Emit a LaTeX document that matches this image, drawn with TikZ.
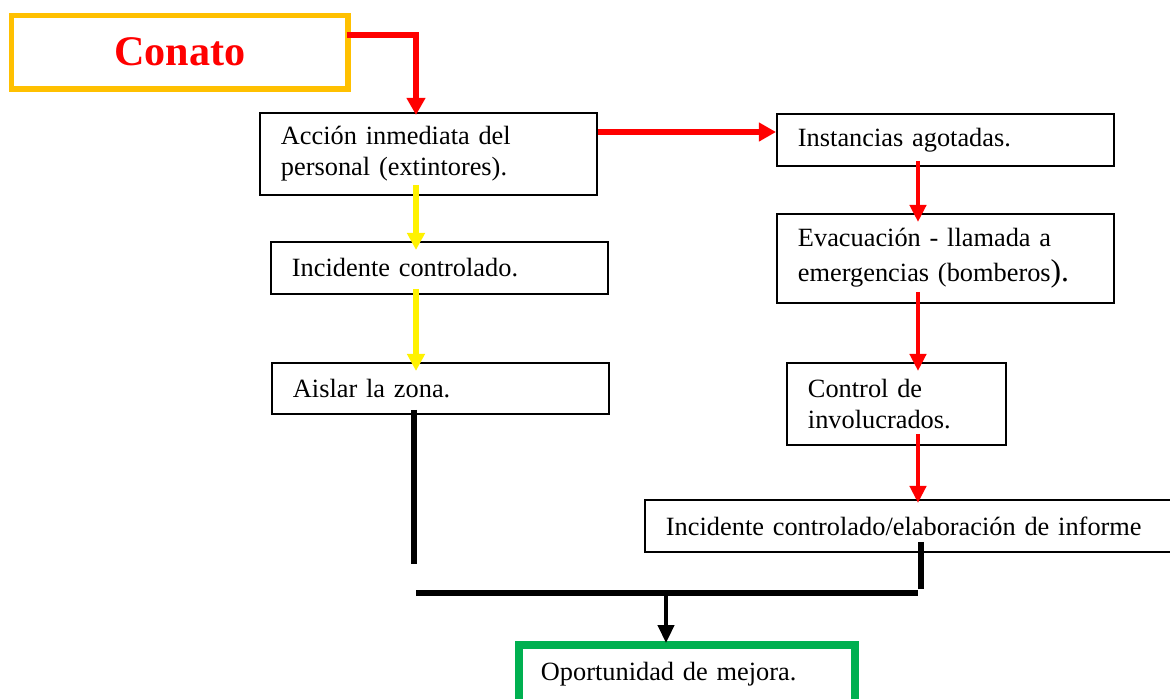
\documentclass[tikz,border=0pt]{standalone}
\usepackage{fontspec}
\setmainfont{Liberation Serif}
\usepackage{xcolor}
\usetikzlibrary{arrows.meta}
\definecolor{naranja}{HTML}{FFC000}
\definecolor{verde}{HTML}{00B050}

\begin{document}
\begin{tikzpicture}[x=0.02cm, y=-0.02cm,
	caja/.style={draw, line width=1.1pt, anchor=north west, inner xsep=0.42cm, inner ysep=0pt, align=left, text width=5.9cm, minimum width=6.74cm, font=\fontsize{15}{17.5}\selectfont},
	roja/.style={draw=red, line width=3.1pt, -{Triangle[width=10.2pt,length=9.7pt]}},
	rojafina/.style={draw=red, line width=2.6pt, -{Triangle[width=9.1pt,length=9.7pt]}},
	amarilla/.style={draw=yellow, line width=3.2pt, -{Triangle[width=9.7pt,length=9.7pt]}},
	negra/.style={draw=black, line width=3.4pt},
	flechanegra/.style={draw=black, line width=2.4pt, -{Triangle[width=9.1pt,length=10.2pt]}}]
	\useasboundingbox (0,0) rectangle (1170,698);

	\node[draw=naranja, line width=3.1pt, anchor=north west, minimum width=6.73cm, minimum height=1.47cm, text=red, font=\fontsize{24}{28}\selectfont\bfseries] (conato) at (8.75,12.75) {Conato};

	\node[caja, minimum height=1.64cm] (accion) at (259,112) {Acción inmediata del\\personal (extintores).};
	\node[caja, minimum height=1.04cm] (incidente) at (270,241) {Incidente controlado.};
	\node[caja, minimum height=1.02cm] (aislar) at (271,362) {Aislar la zona.};

	\node[caja, minimum height=1.04cm] (instancias) at (776,113) {Instancias agotadas.};
	\node[caja, minimum height=1.78cm, font=\fontsize{15}{20}\selectfont] (evacuacion) at (776,213) {Evacuación - llamada a\\emergencias (bomberos{\fontsize{18}{20}\selectfont).}};
	\node[caja, minimum height=1.64cm, text width=3.54cm, minimum width=4.38cm] (control) at (786,362) {Control de\\involucrados.};
	\node[caja, minimum height=1.04cm, text width=9.98cm, minimum width=10.82cm] (informe) at (644,499) {Incidente controlado/elaboración de informe};

	\node[draw=verde, line width=4.5pt, anchor=north west, inner xsep=0.44cm, inner ysep=0pt, align=left, text width=5.84cm, minimum width=6.72cm, minimum height=1.18cm, font=\fontsize{15}{17.5}\selectfont] (mejora) at (515,641) {Oportunidad de mejora.};

	\coordinate (k1) at (416,35);
	\coordinate (k2) at (776,132);
	\coordinate (k3) at (918,0);
	\coordinate (j1) at (414,564);
	\coordinate (j2) at (921,589);
	\coordinate (h1) at (416,593);
	\coordinate (h2) at (918,593);
	\coordinate (h3) at (666,593);

	\draw[roja] ([xshift=-0.08cm]conato.east |- k1) -- (k1) -- ([yshift=-0.06cm]accion.north -| k1);
	\draw[roja] (accion.east |- k2) -- (instancias.west |- k2);

	\draw[amarilla] ([yshift=0.22cm]accion.south -| k1) -- ([yshift=-0.18cm]incidente.north -| k1);
	\draw[amarilla] ([yshift=0.12cm]incidente.south -| k1) -- ([yshift=-0.18cm]aislar.north -| k1);

	\draw[rojafina] ([yshift=0.12cm]instancias.south -| k3) -- ([yshift=-0.18cm]evacuacion.north -| k3);
	\draw[rojafina] ([yshift=0.24cm]evacuacion.south -| k3) -- ([yshift=-0.18cm]control.north -| k3);
	\draw[rojafina] ([yshift=0.24cm]control.south -| k3) -- ([yshift=-0.08cm]informe.north -| k3);

	\draw[negra] ([yshift=0.1cm]aislar.south -| j1) -- (j1);
	\draw[negra] ([yshift=0.22cm]informe.south -| j2) -- (j2);
	\draw[negra] (h1) -- (h2);
	\draw[flechanegra] (h3) -- ([yshift=-0.04cm]mejora.north -| h3);
\end{tikzpicture}
\end{document}
